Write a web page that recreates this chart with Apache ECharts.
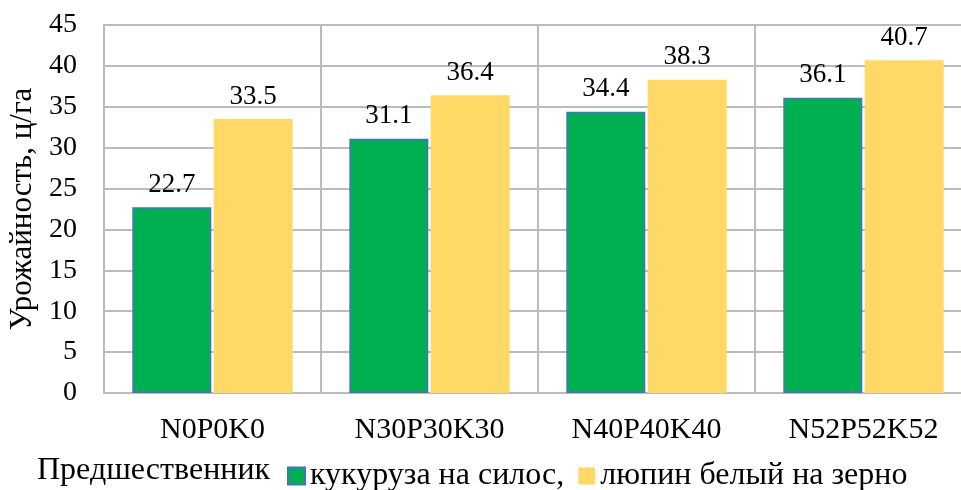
<!DOCTYPE html>
<html>
<head>
<meta charset="utf-8">
<script src="https://cdn.jsdelivr.net/npm/echarts@6/dist/echarts.min.js"></script>
<style>
  html, body { margin: 0; padding: 0; background: #fff; }
  #chart { width: 961px; height: 490px; }
</style>
</head>
<body>
<div id="chart"></div>
<script>
// Yield by fertilizer dose, for two preceding crops
const categories = ['N0P0K0', 'N30P30K30', 'N40P40K40', 'N52P52K52'];
const cornSilage = [22.7, 31.1, 34.4, 36.1];
const whiteLupin = [33.5, 36.4, 38.3, 40.7];
const yTicks = { min: 0, max: 45, interval: 5 };

const FONT = '"Liberation Serif", "Times New Roman", serif';
const GRID_COLOR = '#BBBBBB';

const chart = echarts.init(document.getElementById('chart'), null, { renderer: 'canvas' });

const labelStyle = {
  show: true,
  position: 'top',
  distance: 9,
  color: '#000',
  fontFamily: FONT,
  fontSize: 27,
  formatter: p => p.value.toFixed(1)
};

chart.setOption({
  animation: false,
  backgroundColor: '#fff',
  textStyle: { fontFamily: FONT },
  grid: { left: 104, right: -11, top: 25, bottom: 97, containLabel: false, outerBoundsMode: 'none' },
  xAxis: {
    type: 'category',
    data: categories,
    axisTick: { show: false },
    axisLine: { show: true, lineStyle: { color: GRID_COLOR, width: 2 } },
    splitLine: { show: true, lineStyle: { color: GRID_COLOR, width: 2 } },
    axisLabel: { color: '#000', fontFamily: FONT, fontSize: 30, margin: 22 }
  },
  yAxis: {
    type: 'value',
    min: yTicks.min,
    max: yTicks.max,
    interval: yTicks.interval,
    name: 'Урожайность, ц/га',
    nameLocation: 'middle',
    nameGap: 66,
    nameTextStyle: { color: '#000', fontFamily: FONT, fontSize: 31 },
    axisLine: { show: true, lineStyle: { color: GRID_COLOR, width: 2 } },
    axisTick: { show: false },
    splitLine: { show: true, lineStyle: { color: GRID_COLOR, width: 2 } },
    axisLabel: { color: '#000', fontFamily: FONT, fontSize: 28, margin: 27 }
  },
  legend: {
    left: 282,
    top: 455,
    itemWidth: 17,
    itemHeight: 17,
    itemGap: 14,
    icon: 'rect',
    textStyle: { color: '#000', fontFamily: FONT, fontSize: 32 },
    data: ['кукуруза на силос,', 'люпин белый на зерно']
  },
  graphic: [{
    type: 'text',
    x: 37,
    y: 471,
    style: { text: 'Предшественник', fill: '#000', font: '32px ' + FONT, verticalAlign: 'middle' }
  }],
  series: [
    {
      name: 'кукуруза на силос,',
      type: 'bar',
      data: cornSilage,
      barWidth: 79,
      barGap: '3%',
      itemStyle: { color: '#00B050', borderColor: '#4472C4', borderWidth: 1.5 },
      label: labelStyle
    },
    {
      name: 'люпин белый на зерно',
      type: 'bar',
      data: whiteLupin,
      barWidth: 79,
      barGap: '3%',
      itemStyle: { color: '#FFD966' },
      label: labelStyle
    }
  ]
});
</script>
</body>
</html>
